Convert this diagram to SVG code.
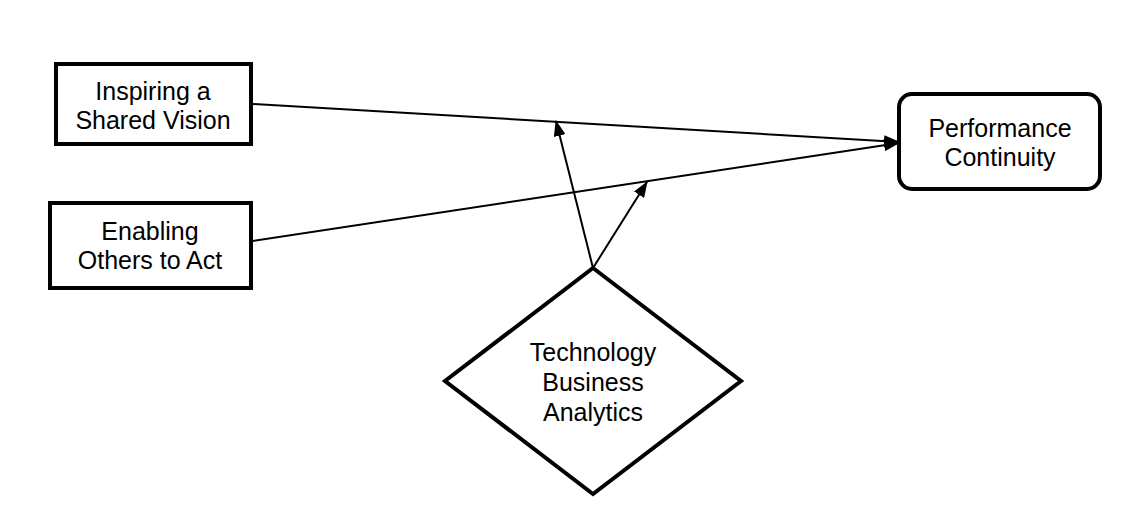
<svg xmlns="http://www.w3.org/2000/svg" width="1132" height="505" viewBox="0 0 1132 505">
<defs>
<style>
.box{fill:#fff;stroke:#000;stroke-width:4}
.lbl{font-family:"Liberation Sans",Arial,sans-serif;font-size:25px;fill:#000;text-anchor:middle}
.conn{stroke:#000;stroke-width:2;fill:none}
</style>
<marker id="ah" markerWidth="16" markerHeight="12" refX="15" refY="6" orient="auto" markerUnits="userSpaceOnUse">
<path d="M0,0 L16,6 L0,12 Z" fill="#000"/>
</marker>
</defs>
<rect width="1132" height="505" fill="#fff"/>
<g id="connectors">
<line class="conn" x1="253" y1="104" x2="899" y2="142" marker-end="url(#ah)"/>
<line class="conn" x1="253" y1="241" x2="899" y2="143" marker-end="url(#ah)"/>
<line class="conn" x1="593" y1="268" x2="556" y2="121" marker-end="url(#ah)"/>
<line class="conn" x1="593" y1="268" x2="647" y2="182" marker-end="url(#ah)"/>
</g>
<g id="inspiring">
<rect class="box" x="56" y="64" width="195" height="80"/>
<text class="lbl" x="153" y="100">Inspiring a</text>
<text class="lbl" x="153" y="129">Shared Vision</text>
</g>
<g id="enabling">
<rect class="box" x="50" y="203" width="201" height="85"/>
<text class="lbl" x="150" y="240">Enabling</text>
<text class="lbl" x="150" y="269">Others to Act</text>
</g>
<g id="performance">
<rect class="box" x="899" y="94" width="201" height="95" rx="13" ry="13"/>
<text class="lbl" x="1000" y="137">Performance</text>
<text class="lbl" x="1000" y="166">Continuity</text>
</g>
<g id="technology">
<polygon class="box" points="593,268 741,381 593,494 445,381"/>
<text class="lbl" x="593" y="361">Technology</text>
<text class="lbl" x="593" y="391">Business</text>
<text class="lbl" x="593" y="421">Analytics</text>
</g>
</svg>
